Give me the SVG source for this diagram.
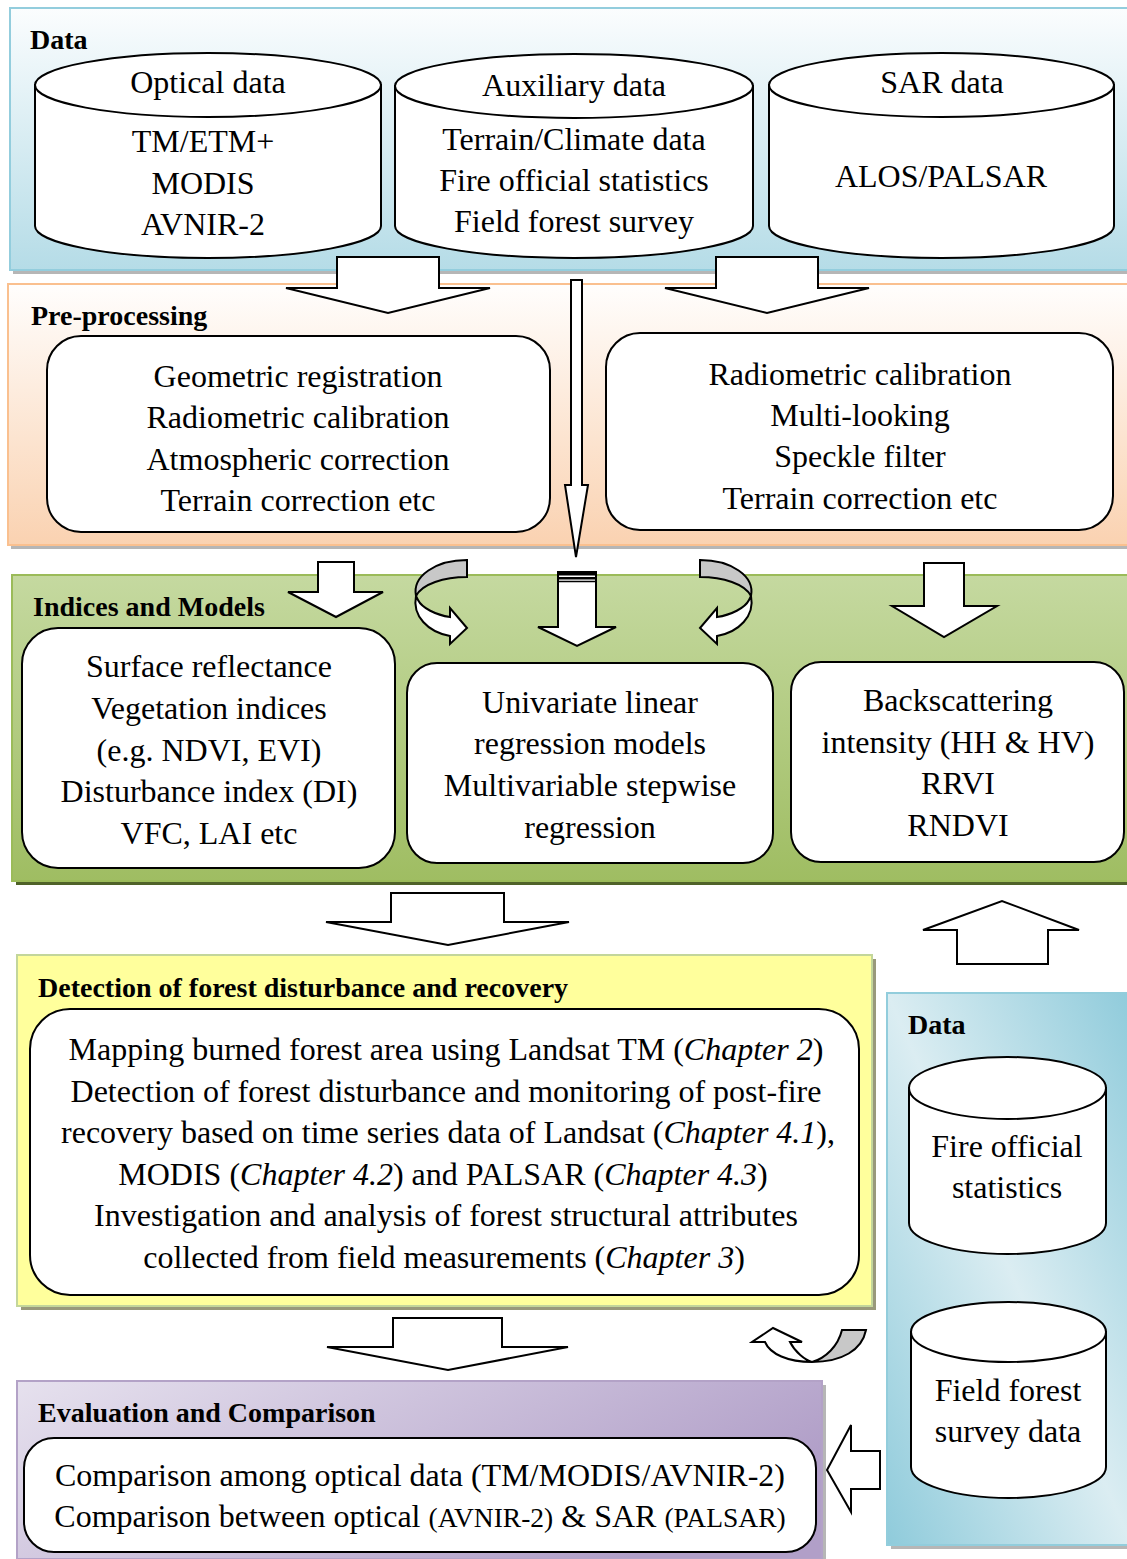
<svg xmlns="http://www.w3.org/2000/svg" width="1127" height="1559" viewBox="0 0 1127 1559">
<defs>
<linearGradient id="gData" x1="0" y1="0" x2="0" y2="1"><stop offset="0" stop-color="#fbfdfe"/><stop offset="1" stop-color="#b5dce7"/></linearGradient>
<linearGradient id="gPre" x1="0" y1="0" x2="0" y2="1"><stop offset="0" stop-color="#fffefd"/><stop offset="1" stop-color="#fad2b1"/></linearGradient>
<linearGradient id="gInd" x1="0" y1="0" x2="0" y2="1"><stop offset="0" stop-color="#c5d9a0"/><stop offset="1" stop-color="#9fbd62"/></linearGradient>
<linearGradient id="gData2" x1="1" y1="0" x2="0" y2="1"><stop offset="0" stop-color="#8fcbdb"/><stop offset="0.5" stop-color="#dbedf2"/><stop offset="1" stop-color="#8fcbdb"/></linearGradient>
<linearGradient id="gEval" x1="0" y1="0" x2="1" y2="0.4"><stop offset="0" stop-color="#e6e1ee"/><stop offset="1" stop-color="#b19fc8"/></linearGradient>
<style>
text{font-family:"Liberation Serif","Times New Roman",serif;fill:#000}
.t{font-size:32px;text-anchor:middle}
.lbl{font-size:28px;font-weight:bold}
.box{fill:#fff;stroke:#000;stroke-width:2}
.cyl{fill:#fff;stroke:#000;stroke-width:2}
.arr{fill:#fff;stroke:#000;stroke-width:2;stroke-linejoin:miter}
.sh{fill:#7a7a7a;opacity:.55}
.sm{font-size:27.5px}
.i{font-style:italic}
</style>
</defs>

<!-- Panels -->
<g id="panel-data-top">
<rect class="sh" x="13" y="12" width="1120" height="262"/>
<rect x="10" y="8" width="1125" height="262" fill="url(#gData)" stroke="#93cddd" stroke-width="2"/>
<text class="lbl" x="30" y="49">Data</text>
</g>
<g id="panel-pre">
<rect class="sh" x="11" y="288" width="1122" height="261"/>
<rect x="8" y="284" width="1125" height="261" fill="url(#gPre)" stroke="#fac08f" stroke-width="2"/>
<text class="lbl" x="31" y="325">Pre-processing</text>
</g>
<g id="panel-indices">
<rect x="16" y="579" width="1120" height="306" fill="#4f6228"/>
<rect x="12" y="575" width="1125" height="306" fill="url(#gInd)" stroke="#9bbb59" stroke-width="2"/>
<text class="lbl" x="33" y="616">Indices and Models</text>
</g>
<g id="panel-detection">
<rect x="21" y="959" width="855" height="351" fill="#7f7f5a" opacity=".8"/>
<rect x="17" y="955" width="855" height="351" fill="#ffff9c" stroke="#c3d69b" stroke-width="2"/>
<text class="lbl" x="38" y="997">Detection of forest disturbance and recovery</text>
</g>
<g id="panel-data-right">
<rect class="sh" x="891" y="997" width="240" height="552"/>
<rect x="887" y="993" width="245" height="552" fill="url(#gData2)" stroke="#92cddc" stroke-width="2"/>
<text class="lbl" x="908" y="1034">Data</text>
</g>
<g id="panel-eval">
<rect class="sh" x="21" y="1385" width="805" height="178"/>
<rect x="17" y="1381" width="805" height="178" fill="url(#gEval)" stroke="#b3a2c7" stroke-width="2"/>
<text class="lbl" x="38" y="1422">Evaluation and Comparison</text>
</g>

<!-- Nodes -->
<g id="node-optical">
<path class="cyl" d="M35,85 L35,226 A173,32 0 0 0 381,226 L381,85 Z"/>
<ellipse class="cyl" cx="208" cy="85" rx="173" ry="32"/>
<text class="t" x="208" y="93">Optical data</text>
<text class="t" x="203" y="152">TM/ETM+</text>
<text class="t" x="203" y="194">MODIS</text>
<text class="t" x="203" y="235">AVNIR-2</text>
</g>
<g id="node-auxiliary">
<path class="cyl" d="M395,86 L395,226 A179,32 0 0 0 753,226 L753,86 Z"/>
<ellipse class="cyl" cx="574" cy="86" rx="179" ry="32"/>
<text class="t" x="574" y="96">Auxiliary data</text>
<text class="t" x="574" y="150">Terrain/Climate data</text>
<text class="t" x="574" y="191">Fire official statistics</text>
<text class="t" x="574" y="232">Field forest survey</text>
</g>
<g id="node-sar">
<path class="cyl" d="M769,85 L769,226 A172.5,32 0 0 0 1114,226 L1114,85 Z"/>
<ellipse class="cyl" cx="941.5" cy="85" rx="172.5" ry="32"/>
<text class="t" x="942" y="93">SAR data</text>
<text class="t" x="941" y="187">ALOS/PALSAR</text>
</g>
<g id="node-pre-optical">
<rect class="box" x="47" y="336" width="503" height="196" rx="34"/>
<text class="t" x="298" y="387">Geometric registration</text>
<text class="t" x="298" y="428">Radiometric calibration</text>
<text class="t" x="298" y="470">Atmospheric correction</text>
<text class="t" x="298" y="511">Terrain correction etc</text>
</g>
<g id="node-pre-sar">
<rect class="box" x="606" y="333" width="507" height="197" rx="34"/>
<text class="t" x="860" y="385">Radiometric calibration</text>
<text class="t" x="860" y="426">Multi-looking</text>
<text class="t" x="860" y="467">Speckle filter</text>
<text class="t" x="860" y="509">Terrain correction etc</text>
</g>
<g id="node-indices-optical">
<rect class="box" x="22" y="628" width="373" height="240" rx="36"/>
<text class="t" x="209" y="677">Surface reflectance</text>
<text class="t" x="209" y="719">Vegetation indices</text>
<text class="t" x="209" y="761">(e.g. NDVI, EVI)</text>
<text class="t" x="209" y="802">Disturbance index (DI)</text>
<text class="t" x="209" y="844">VFC, LAI etc</text>
</g>
<g id="node-models">
<rect class="box" x="407" y="663" width="366" height="200" rx="30"/>
<text class="t" x="590" y="713">Univariate linear</text>
<text class="t" x="590" y="754">regression models</text>
<text class="t" x="590" y="796">Multivariable stepwise</text>
<text class="t" x="590" y="838">regression</text>
</g>
<g id="node-indices-sar">
<rect class="box" x="791" y="662" width="333" height="200" rx="30"/>
<text class="t" x="958" y="711">Backscattering</text>
<text class="t" x="958" y="753">intensity (HH &amp; HV)</text>
<text class="t" x="958" y="794">RRVI</text>
<text class="t" x="958" y="836">RNDVI</text>
</g>
<g id="node-detection">
<rect class="box" x="30" y="1009" width="829" height="286" rx="40"/>
<text class="t" x="446" y="1060">Mapping burned forest area using Landsat TM (<tspan class="i">Chapter 2</tspan>)</text>
<text class="t" x="446" y="1102">Detection of forest disturbance and monitoring of post-fire</text>
<text class="t" x="448" y="1143">recovery based on time series data of Landsat (<tspan class="i">Chapter 4.1</tspan>),</text>
<text class="t" x="443" y="1185">MODIS (<tspan class="i">Chapter 4.2</tspan>) and PALSAR (<tspan class="i">Chapter 4.3</tspan>)</text>
<text class="t" x="446" y="1226">Investigation and analysis of forest structural attributes</text>
<text class="t" x="444" y="1268">collected from field measurements (<tspan class="i">Chapter 3</tspan>)</text>
</g>
<g id="node-fire-stats">
<path class="cyl" d="M909,1088 L909,1223 A98.5,31 0 0 0 1106,1223 L1106,1088 Z"/>
<ellipse class="cyl" cx="1007.5" cy="1088" rx="98.5" ry="31"/>
<text class="t" x="1007" y="1157">Fire official</text>
<text class="t" x="1007" y="1198">statistics</text>
</g>
<g id="node-field-survey">
<path class="cyl" d="M911,1332 L911,1467 A97.5,31 0 0 0 1106,1467 L1106,1332 Z"/>
<ellipse class="cyl" cx="1008.5" cy="1332" rx="97.5" ry="30"/>
<text class="t" x="1008" y="1401">Field forest</text>
<text class="t" x="1008" y="1442">survey data</text>
</g>
<g id="node-eval">
<rect class="box" x="24" y="1438" width="792" height="114" rx="30"/>
<text class="t" x="420" y="1486">Comparison among optical data (TM/MODIS/AVNIR-2)</text>
<text class="t" x="420" y="1527">Comparison between optical <tspan class="sm">(AVNIR-2)</tspan> &amp; SAR <tspan class="sm">(PALSAR)</tspan></text>
</g>

<!-- Connectors -->
<g id="connectors">
<path class="arr" d="M337,257 L439,257 L439,288 L490,288 L388,313 L286,288 L337,288 Z"/>
<path class="arr" d="M716,257 L818,257 L818,288 L869,288 L767,313 L665,288 L716,288 Z"/>
<path class="arr" d="M571,280 L582,280 L582,485 L588,485 L576,557 L565,485 L571,485 Z"/>
<path class="arr" d="M318,562 L354,562 L354,592 L383,592 L336,617 L288,592 L318,592 Z"/>
<g id="arrow-striped">
<path class="arr" d="M558,572 L596,572 L596,627 L616,627 L577,646 L538,627 L558,627 Z"/>
<rect x="558" y="572" width="38" height="3.5" fill="#000"/>
<rect x="558" y="577" width="38" height="2.5" fill="#000"/>
<line x1="558" y1="581.5" x2="596" y2="581.5" stroke="#000" stroke-width="1.5"/>
</g>
<path class="arr" d="M924,563 L964,563 L964,606 L997,606 L944,637 L892,606 L924,606 Z"/>
<g id="curved-left">
<path d="M467,560 L467,577 C444,577 422,584 416,596 C412,576 436,560 467,560 Z" fill="#c8c8c8" stroke="#000" stroke-width="2"/>
<path d="M416,596 C412,616 428,632 450,636 L450,644 L467,628 L450,608 L450,617 C436,615 422,608 418,600 Z" fill="#fff" stroke="#000" stroke-width="2" stroke-linejoin="miter"/>
</g>
<g id="curved-right" transform="translate(1167,0) scale(-1,1)">
<path d="M467,560 L467,577 C444,577 422,584 416,596 C412,576 436,560 467,560 Z" fill="#c8c8c8" stroke="#000" stroke-width="2"/>
<path d="M416,596 C412,616 428,632 450,636 L450,644 L467,628 L450,608 L450,617 C436,615 422,608 418,600 Z" fill="#fff" stroke="#000" stroke-width="2" stroke-linejoin="miter"/>
</g>
<path class="arr" d="M391,893 L504,893 L504,922 L569,922 L448,945 L326,922 L391,922 Z"/>
<path class="arr" d="M957,964 L1048,964 L1048,930 L1079,930 L1002,901 L923,930 L957,930 Z"/>
<path class="arr" d="M393,1318 L502,1318 L502,1347 L568,1347 L448,1370 L327,1347 L393,1347 Z"/>
<path class="arr" d="M880,1451 L880,1489 L851,1489 L851,1512 L827,1470 L851,1425 L851,1451 Z"/>
<g id="curved-bottom">
<path d="M866,1330 C862,1350 842,1362 812,1362 C826,1358 838,1346 842,1330 Z" fill="#c8c8c8" stroke="#000" stroke-width="2"/>
<path d="M812,1362 C788,1362 770,1354 765,1342 L752,1342 L773,1328 L802,1342 L790,1342 C795,1352 805,1360 812,1362 Z" fill="#fff" stroke="#000" stroke-width="2"/>
</g>
</g>
</svg>
